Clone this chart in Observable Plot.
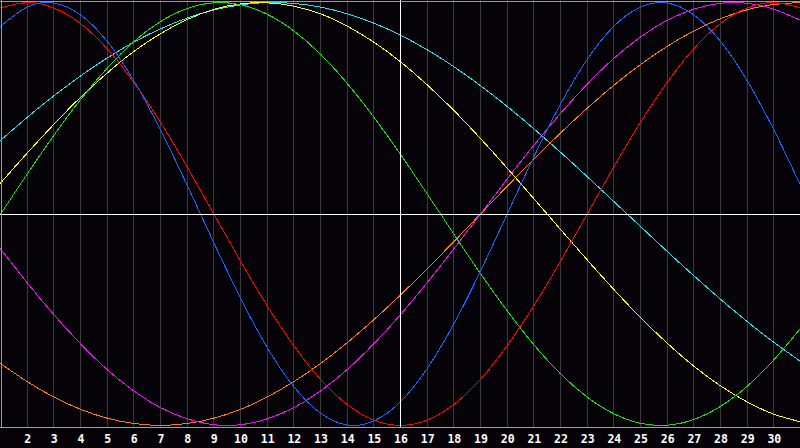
<!DOCTYPE html>
<html>
<head>
<meta charset="utf-8">
<script src="https://cdn.jsdelivr.net/npm/d3@7"></script>
<script src="https://cdn.jsdelivr.net/npm/@observablehq/plot@0.6"></script>
<style>
html, body { margin: 0; padding: 0; background: #050308; overflow: hidden; }
svg { display: block; }
</style>
</head>
<body>
<div id="chart"></div>
<script>
// Days of the month shown (1..31)
const days = [1,2,3,4,5,6,7,8,9,10,11,12,13,14,15,16,17,18,19,20,21,22,23,24,25,26,27,28,29,30,31];
// Tick labels along the bottom
const tickLabels = [2,3,4,5,6,7,8,9,10,11,12,13,14,15,16,17,18,19,20,21,22,23,24,25,26,27,28,29,30];
const todayDay = 16;

// Cycle values (-100..100), one per day
const physical = [88.8,97.9,99.8,94.2,81.7,63.1,39.8,13.6,-13.6,-39.8,-63.1,-81.7,-94.2,-99.8,-97.9,-88.8,-73.1,-52.0,-27.0,0,27.0,52.0,73.1,88.8,97.9,99.8,94.2,81.7,63.1,39.8,13.6];
const emotional = [97.5,100,97.5,90.1,78.2,62.3,43.4,22.3,0,-22.3,-43.4,-62.3,-78.2,-90.1,-97.5,-100,-97.5,-90.1,-78.2,-62.3,-43.4,-22.3,0,22.3,43.4,62.3,78.2,90.1,97.5,100,97.5];
const intellectual = [0,18.9,37.2,54.1,69.0,81.5,91.0,97.2,99.9,99.0,94.5,86.6,75.6,61.8,45.8,28.2,9.5,-9.5,-28.2,-45.8,-61.8,-75.6,-86.6,-94.5,-99.0,-99.9,-97.2,-91.0,-81.5,-69.0,-54.1];
const intuitive = [-16.5,-32.5,-47.6,-61.4,-73.6,-83.7,-91.6,-96.9,-99.7,-99.7,-96.9,-91.6,-83.7,-73.6,-61.4,-47.6,-32.5,-16.5,0,16.5,32.5,47.6,61.4,73.6,83.7,91.6,96.9,99.7,99.7,96.9,91.6];
const aesthetic = [14.6,28.8,42.4,55.2,66.7,76.9,85.3,92.0,96.8,99.4,99.9,98.3,94.7,88.9,81.3,72.0,61.1,49.0,35.7,21.7,7.3,-7.3,-21.7,-35.7,-49.0,-61.1,-72.0,-81.3,-88.9,-94.7,-98.3];
const awareness = [-70.7,-79.3,-86.6,-92.4,-96.6,-99.1,-100,-99.1,-96.6,-92.4,-86.6,-79.3,-70.7,-60.9,-50,-38.3,-25.9,-13.1,0,13.1,25.9,38.3,50,60.9,70.7,79.3,86.6,92.4,96.6,99.1,100];
const spiritual = [34.8,45.7,55.9,65.3,73.8,81.3,87.6,92.7,96.5,98.9,100.0,99.6,97.9,94.7,90.3,84.6,77.7,69.7,60.7,50.9,40.3,29.2,17.7,5.9,-5.9,-17.7,-29.2,-40.3,-50.9,-60.7,-69.7];

const seriesNames = ["awareness","intuitive","spiritual","aesthetic","intellectual","emotional","physical"];
const seriesValues = {physical, emotional, intellectual, intuitive, aesthetic, awareness, spiritual};
const seriesColors = {
  physical: "#1466ff",
  emotional: "#ff0000",
  intellectual: "#12e012",
  intuitive: "#f010f0",
  aesthetic: "#ffff00",
  awareness: "#ff8000",
  spiritual: "#18e6f0"
};

const lineMarks = seriesNames.map(name =>
  Plot.line(days.map((d, i) => ({day: d, value: seriesValues[name][i]})), {
    x: "day", y: "value", stroke: seriesColors[name], strokeWidth: 1,
    curve: "natural", shapeRendering: "crispEdges"
  })
);

const chart = Plot.plot({
  width: 800,
  height: 448,
  marginTop: 0,
  marginLeft: 0,
  marginRight: 0,
  marginBottom: 21,
  x: {domain: [1, 31], axis: null},
  y: {domain: [-101, 101], axis: null},
  style: {background: "#050308", overflow: "visible"},
  marks: [
    Plot.ruleX(tickLabels.filter(d => d !== todayDay), {x: d => d, stroke: "#3a3a3a", shapeRendering: "crispEdges"}),
    ...lineMarks,
    Plot.ruleX([todayDay], {stroke: "#ffffff", shapeRendering: "crispEdges"}),
    Plot.ruleY([0], {stroke: "#ffffff", shapeRendering: "crispEdges"}),
    Plot.ruleX([1], {stroke: "#9a9a9a", dx: 0.5, shapeRendering: "crispEdges"}),
    Plot.ruleY([101], {stroke: "#9a9a9a", dy: 0.5, shapeRendering: "crispEdges"}),
    Plot.ruleY([-101], {stroke: "#a0a0a0", dy: 0, shapeRendering: "crispEdges"}),
    Plot.text(tickLabels, {
      x: d => d, text: d => String(d), frameAnchor: "bottom", dy: 12, dx: 0.5,
      fill: "#ffffff", fontSize: 11.5, fontWeight: "bold",
      fontFamily: "DejaVu Sans Mono", lineAnchor: "middle", textAnchor: "middle"
    })
  ]
});
document.getElementById("chart").appendChild(chart);
</script>
</body>
</html>
